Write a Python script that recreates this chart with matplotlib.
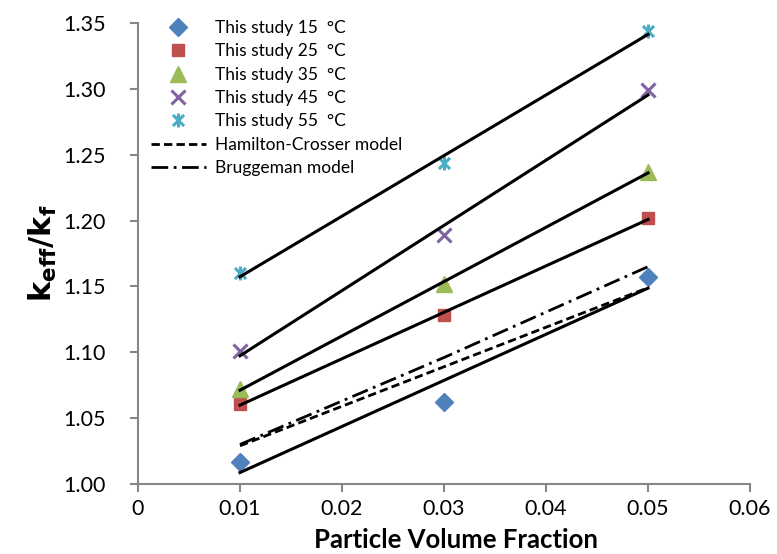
import numpy as np
import matplotlib.pyplot as plt
from matplotlib.path import Path

plt.rcParams['font.family'] = ['Lato', 'DejaVu Sans']

# measured data: k_eff/k_f vs particle volume fraction
phi = [0.01, 0.03, 0.05]
k_15 = [1.017, 1.062, 1.157]
k_25 = [1.061, 1.128, 1.202]
k_35 = [1.072, 1.152, 1.237]
k_45 = [1.101, 1.189, 1.299]
k_55 = [1.160, 1.244, 1.344]

# model predictions
hamilton_crosser = [1.029, 1.089, 1.149]
bruggeman = [1.030, 1.096, 1.165]

labels = ["This study 15  °C", "This study 25  °C", "This study 35  °C",
          "This study 45  °C", "This study 55  °C"]

# excel-style star marker (x with a vertical bar)
star = Path([(-1, -1), (1, 1), (-1, 1), (1, -1), (0, -1.25), (0, 1.25)],
            [Path.MOVETO, Path.LINETO, Path.MOVETO, Path.LINETO, Path.MOVETO, Path.LINETO])

series = [
    (k_15, "D", "#4F81BD", 9),
    (k_25, "s", "#C0504D", 9),
    (k_35, "^", "#9BBB59", 11),
    (k_45, "x", "#8064A2", 10),
    (k_55, star, "#4BACC6", 10),
]

fig = plt.figure(figsize=(7.77, 5.54), dpi=100)
ax = fig.add_axes([0.1776, 0.1264, 0.7877, 0.8321])

for (vals, mk, col, ms), lab in zip(series, labels):
    if mk in ("x",) or isinstance(mk, Path):
        ax.plot(phi, vals, linestyle="none", marker=mk, markersize=ms,
                markeredgecolor=col, markeredgewidth=2.2, color=col, label=lab, zorder=3)
    else:
        ax.plot(phi, vals, linestyle="none", marker=mk, markersize=ms,
                markeredgecolor=col, color=col, label=lab, zorder=3)

# linear trend lines through each data set
x_fit = np.array([phi[0], phi[-1]])
for vals, mk, col, ms in series:
    slope, icpt = np.polyfit(phi, vals, 1)
    ax.plot(x_fit, slope * x_fit + icpt, color="black", linewidth=2.2, zorder=4)

ax.plot(phi, hamilton_crosser, color="black", linestyle=(0, (3, 1.5)), linewidth=2,
        label="Hamilton-Crosser model", zorder=4)
ax.plot(phi, bruggeman, color="black", linestyle=(0, (6, 2, 1, 2)), linewidth=2,
        label="Bruggeman model", zorder=4)

ax.set_xlim(0, 0.06)
ax.set_ylim(1.00, 1.35)
ax.set_xticks(np.arange(0, 0.061, 0.01))
ax.set_xticklabels(["0", "0.01", "0.02", "0.03", "0.04", "0.05", "0.06"])
ax.set_yticks(np.arange(1.0, 1.351, 0.05))
ax.set_yticklabels(["1.00", "1.05", "1.10", "1.15", "1.20", "1.25", "1.30", "1.35"])

for side in ("top", "right"):
    ax.spines[side].set_visible(False)
for side in ("left", "bottom"):
    ax.spines[side].set_color("#868686")
    ax.spines[side].set_linewidth(1.5)
ax.tick_params(colors="#868686", labelcolor="black", width=1.5, length=6,
               labelsize=15.5, direction="out")
ax.tick_params(axis="y", pad=17)
ax.tick_params(axis="x", pad=5)

ax.set_xlabel("Particle Volume Fraction", fontsize=18.5, fontweight="bold", labelpad=8)
ax.xaxis.set_label_coords(0.52, -0.095)
ax.set_ylabel(r"$\mathbf{k_{eff}/k_f}$", fontsize=22, labelpad=3)

ax.legend(loc="upper left", bbox_to_anchor=(-0.005, 1.04), frameon=False, fontsize=12.5,
          numpoints=1, handlelength=3.2, handletextpad=0.5, labelspacing=0.42)

fig.savefig("out.png", dpi=100)
